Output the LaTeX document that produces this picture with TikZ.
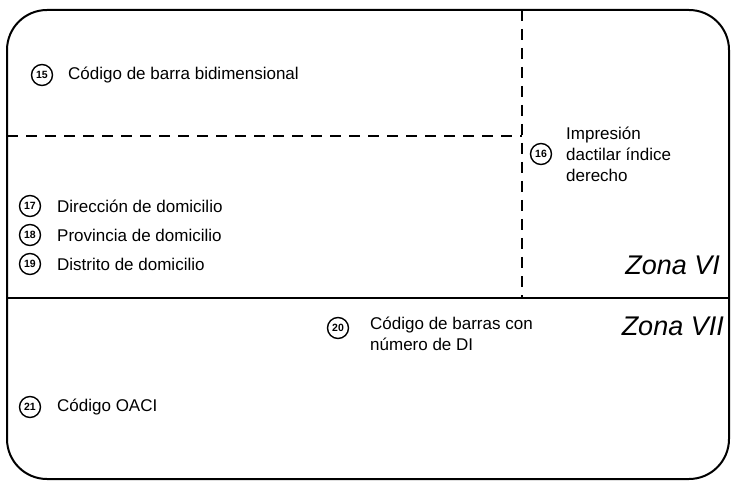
\documentclass[tikz,border=0pt]{standalone}
\usepackage{fontspec}
\setmainfont{Liberation Sans}
\begin{document}
\begin{tikzpicture}[x=1pt,y=-1pt,
  num/.style={draw,circle,line width=1.4pt,inner sep=0pt,minimum size=21pt,font=\fontsize{10.5}{10.5}\selectfont\bfseries},
  lbl/.style={anchor=west,inner sep=0pt,font=\fontsize{17}{21}\selectfont,align=left},
  zone/.style={anchor=east,inner sep=0pt,font=\fontsize{27}{30}\selectfont\itshape},
  dline/.style={line width=2pt,dash pattern=on 11pt off 8pt}]
\useasboundingbox (0,0) rectangle (731,481);
\draw[line width=2pt,rounded corners=40pt] (7,10) rectangle (729,479);
\coordinate (vt) at (522,10);
\coordinate (vb) at (522,298);
\coordinate (hl) at (7,136);
\coordinate (hr) at (522,136);
\coordinate (sl) at (7,298);
\coordinate (sr) at (729,298);
\draw[dline] (vt) -- (vb);
\draw[dline] (hl) -- (hr);
\draw[line width=2pt] (sl) -- (sr);
\node[num] (n15) at (42,75) {15};
\node[lbl] (t15) at (68,75) {Código de barra bidimensional};
\node[num] (n16) at (541,154) {16};
\node[lbl] (t16) at (566,154) {Impresión\\dactilar índice\\derecho};
\node[num] (n17) at (30,206) {17};
\node[lbl] (t17) at (57,206) {Dirección de domicilio};
\node[num] (n18) at (30,235) {18};
\node[lbl] (t18) at (57,235) {Provincia de domicilio};
\node[num] (n19) at (30,264) {19};
\node[lbl] (t19) at (57,264) {Distrito de domicilio};
\node[zone] (z6) at (720,265) {Zona VI};
\node[num] (n20) at (338,328) {20};
\node[lbl] (t20) at (370,334) {Código de barras con\\número de DI};
\node[zone] (z7) at (724,326) {Zona VII};
\node[num] (n21) at (30,407) {21};
\node[lbl] (t21) at (57,407) {Código OACI};
\end{tikzpicture}
\end{document}
